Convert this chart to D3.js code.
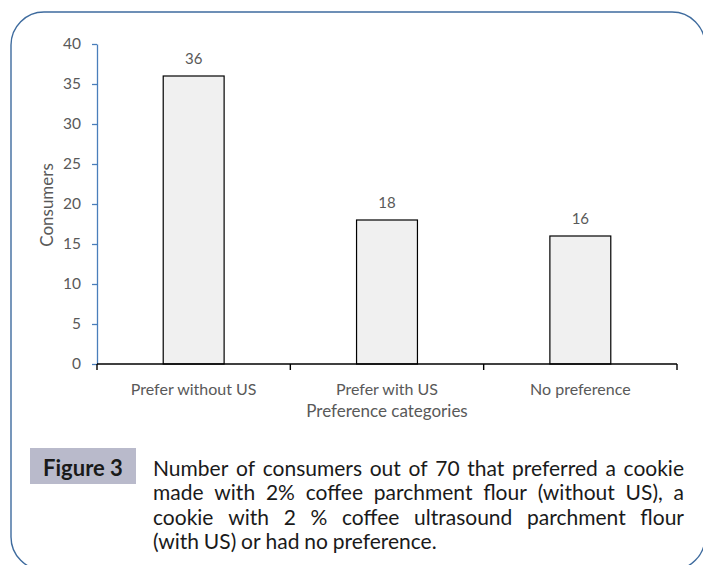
<!DOCTYPE html>
<html>
<head>
<meta charset="utf-8">
<script src="https://cdn.jsdelivr.net/npm/d3@7"></script>
<style>
  html, body { margin: 0; padding: 0; background: #ffffff; }
  svg { display: block; }
  text { font-family: Lato, "Open Sans", "Noto Sans", sans-serif; }
</style>
</head>
<body>
<svg id="chart" width="703" height="565"></svg>
<script>
// Consumer preference counts (n = 70)
const categories = ["Prefer without US", "Prefer with US", "No preference"];
const consumers = [36, 18, 16];
const yTicks = [0, 5, 10, 15, 20, 25, 30, 35, 40];
const yTitle = "Consumers";
const xTitle = "Preference categories";
const figureLabel = "Figure 3";
const captionLines = [
  "Number of consumers out of 70 that preferred a cookie",
  "made with 2% coffee parchment flour (without US), a",
  "cookie with 2 % coffee ultrasound parchment flour",
  "(with US) or had no preference."
];

const svg = d3.select("#chart");
const textGrey = "#595959";

// Rounded frame around the figure
svg.append("rect")
  .attr("x", 11).attr("y", 12)
  .attr("width", 694).attr("height", 558)
  .attr("rx", 33).attr("ry", 33)
  .attr("fill", "none")
  .attr("stroke", "#3e6b9e")
  .attr("stroke-width", 1.4);

const plot = { left: 97, right: 677, top: 44, bottom: 364 };

const x = d3.scaleBand()
  .domain(categories)
  .range([plot.left, plot.right])
  .paddingInner(0.685)
  .paddingOuter(0.3425);

const y = d3.scaleLinear()
  .domain([0, 40])
  .range([plot.bottom, plot.top]);

// Bars
svg.append("g").selectAll("rect")
  .data(categories)
  .join("rect")
  .attr("x", d => x(d))
  .attr("y", (d, i) => y(consumers[i]))
  .attr("width", x.bandwidth())
  .attr("height", (d, i) => y(0) - y(consumers[i]))
  .attr("fill", "#f0f0f0")
  .attr("stroke", "#000000")
  .attr("stroke-width", 1.2);

// Value labels
svg.append("g").selectAll("text")
  .data(categories)
  .join("text")
  .attr("x", d => x(d) + x.bandwidth() / 2)
  .attr("y", (d, i) => y(consumers[i]) - 18)
  .attr("text-anchor", "middle")
  .attr("dominant-baseline", "central")
  .attr("font-size", 15)
  .attr("fill", textGrey)
  .text((d, i) => consumers[i]);

// Y axis (blue)
const yAxis = svg.append("g")
  .attr("transform", `translate(${plot.left},0)`)
  .call(d3.axisLeft(y).tickValues(yTicks).tickSize(5).tickPadding(11).tickSizeOuter(0));
yAxis.select(".domain").attr("stroke", "#4a7ebb").attr("stroke-width", 1.3);
yAxis.selectAll(".tick line").attr("stroke", "#4a7ebb").attr("stroke-width", 1.3);
yAxis.selectAll(".tick text")
  .attr("fill", textGrey)
  .attr("font-size", 15.5)
  .style("font-family", "Lato, 'Open Sans', sans-serif");

// X axis (black) with ticks at category boundaries
const xAxisG = svg.append("g").attr("transform", `translate(0,${plot.bottom})`);
xAxisG.append("line")
  .attr("x1", plot.left).attr("x2", plot.right)
  .attr("stroke", "#000").attr("stroke-width", 1.4);
const boundaries = categories.map(d => x(d) - x.step() * x.paddingInner() / 2)
  .concat([plot.right]);
boundaries[0] = plot.left;
xAxisG.selectAll("line.tick")
  .data(boundaries)
  .join("line")
  .attr("class", "tick")
  .attr("x1", d => d).attr("x2", d => d)
  .attr("y1", 0).attr("y2", 6)
  .attr("stroke", "#000").attr("stroke-width", 1.4);
xAxisG.selectAll("text")
  .data(categories)
  .join("text")
  .attr("x", d => x(d) + x.bandwidth() / 2)
  .attr("y", 24)
  .attr("text-anchor", "middle")
  .attr("dominant-baseline", "central")
  .attr("font-size", 16)
  .attr("fill", textGrey)
  .text(d => d);

// Axis titles
svg.append("text")
  .attr("x", (plot.left + plot.right) / 2)
  .attr("y", 410)
  .attr("text-anchor", "middle")
  .attr("dominant-baseline", "central")
  .attr("font-size", 17)
  .attr("fill", textGrey)
  .text(xTitle);

svg.append("text")
  .attr("transform", "translate(46,205) rotate(-90)")
  .attr("text-anchor", "middle")
  .attr("dominant-baseline", "central")
  .attr("font-size", 17)
  .attr("fill", textGrey)
  .text(yTitle);

// Figure label box
svg.append("rect")
  .attr("x", 30).attr("y", 448)
  .attr("width", 106).attr("height", 36)
  .attr("fill", "#b9bacb");
svg.append("text")
  .attr("x", 83).attr("y", 467)
  .attr("text-anchor", "middle")
  .attr("dominant-baseline", "central")
  .attr("font-size", 22)
  .attr("font-weight", "bold")
  .attr("fill", "#1a1a1a")
  .text(figureLabel);

// Justified caption: words are spread across the column width
const capLeft = 153, capRight = 684, capTop = 467, lineGap = 24.5;
const capFont = 21;
const capG = svg.append("g");
captionLines.forEach((line, li) => {
  const words = line.split(" ");
  const ly = capTop + li * lineGap;
  const nodes = words.map(w => capG.append("text")
    .attr("y", ly)
    .attr("dominant-baseline", "central")
    .attr("font-size", capFont)
    .attr("fill", "#1a1a1a")
    .text(w));
  const widths = nodes.map(n => n.node().getComputedTextLength());
  const total = d3.sum(widths);
  const isLast = li === captionLines.length - 1;
  const space = capFont * 0.23;
  let gap = isLast ? space : (capRight - capLeft - total) / (words.length - 1);
  if (gap < space * 0.6) {
    // squeeze if the font runs wider than the column
    const scale = (capRight - capLeft - space * (words.length - 1)) / total;
    nodes.forEach((n, i) => {
      n.attr("textLength", widths[i] * scale).attr("lengthAdjust", "spacingAndGlyphs");
      widths[i] *= scale;
    });
    gap = space;
  }
  let cx = capLeft;
  nodes.forEach((n, i) => {
    n.attr("x", cx);
    cx += widths[i] + gap;
  });
});
</script>
</body>
</html>
